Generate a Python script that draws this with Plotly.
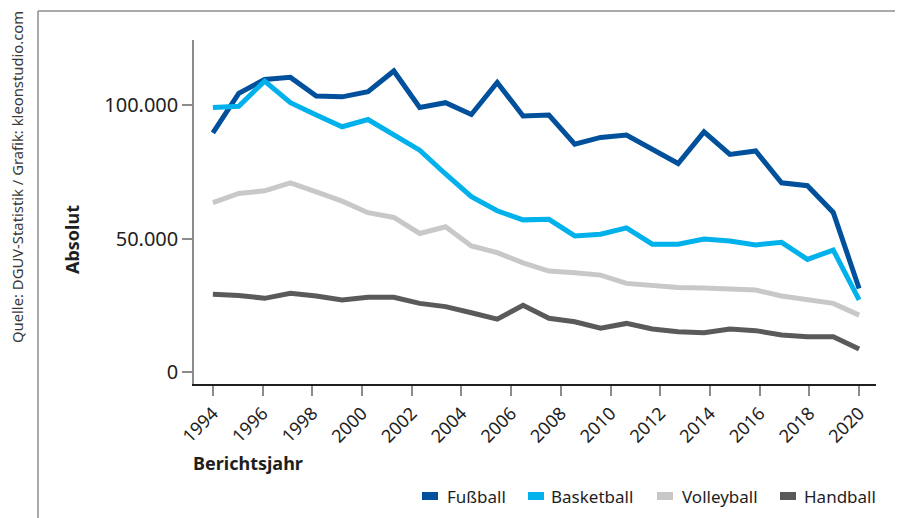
import plotly.graph_objects as go

# ---------------- data ----------------
year_ticks = [1994, 1996, 1998, 2000, 2002, 2004, 2006, 2008, 2010, 2012, 2014, 2016, 2018, 2020]
y_ticks = [0, 50000, 100000]
y_tick_labels = ["0", "50.000", "100.000"]

fussball = [89600, 104400, 109600, 110400, 103400, 103100, 105000, 112800, 99100, 100900,
            96500, 108500, 95900, 96300, 85400, 87900, 88800, 83400, 78100, 90000,
            81500, 82800, 70900, 69800, 59800, 31300]
basketball = [99100, 99600, 109000, 100900, 96300, 91900, 94600, 89000, 83100, 74200,
              65700, 60400, 57000, 57200, 51000, 51600, 54000, 47900, 47900, 49800,
              49100, 47600, 48600, 42200, 45700, 27000]
volleyball = [63500, 66900, 67900, 70900, 67500, 64000, 59700, 57900, 51900, 54400,
              47200, 44700, 40900, 37800, 37200, 36300, 33200, 32300, 31700, 31500,
              31300, 30700, 28500, 27300, 25700, 21300]
handball = [29100, 28700, 27600, 29500, 28500, 27000, 28000, 28000, 25700, 24500,
            22200, 19800, 25000, 20100, 18800, 16400, 18200, 16100, 15100, 14700,
            16100, 15500, 13900, 13200, 13200, 8600]

series_names = ["Fußball", "Basketball", "Volleyball", "Handball"]
series_values = [fussball, basketball, volleyball, handball]
series_colors = ["#00509b", "#00b1eb", "#c8c8c8", "#5a5a5a"]

point_index = list(range(len(fussball)))

# ---------------- layout geometry (screen pixels) ----------------
SCR_W, SCR_H = 903, 518
OFF = 8                      # page body margin
W, H = SCR_W - OFF, SCR_H - OFF
PLOT_L, PLOT_R, PLOT_T, PLOT_B = 194, 876, 40, 384   # screen coordinates
ML, MT = PLOT_L - OFF, PLOT_T - OFF
MR, MB = W - (PLOT_R - OFF), H - (PLOT_B - OFF)
PW, PH = PLOT_R - PLOT_L, PLOT_B - PLOT_T

def px(xs):
    return (xs - PLOT_L) / PW

def py(ys):
    return (PLOT_B - ys) / PH

year_range = [1993.24, 2020.68]
n = len(point_index)
first_year, last_year = year_ticks[0], year_ticks[-1]
scale = (n - 1) / (last_year - first_year)
idx_range = [(year_range[0] - first_year) * scale, (year_range[1] - first_year) * scale]

FONT = "Noto Sans"
TXT = "#1e1e1e"

fig = go.Figure()
for name, vals, col in zip(series_names, series_values, series_colors):
    fig.add_trace(go.Scatter(
        x=point_index, y=vals, name=name, mode="lines",
        line=dict(color=col, width=5), showlegend=False,
        xaxis="x", yaxis="y",
    ))

# invisible trace to activate the year axis
fig.add_trace(go.Scatter(x=[year_ticks[0]], y=[None], xaxis="x2", yaxis="y",
                         showlegend=False, hoverinfo="skip"))

shapes = []
shapes.append(dict(type="line", xref="paper", yref="paper",
                   x0=px(38), x1=px(38), y0=py(SCR_H + 2), y1=py(11),
                   line=dict(color="#8c8c8c", width=1.5)))
shapes.append(dict(type="line", xref="paper", yref="paper",
                   x0=px(38), x1=px(SCR_W + 2), y0=py(11), y1=py(11),
                   line=dict(color="#8c8c8c", width=1.5)))

annotations = []
annotations.append(dict(text="Quelle: DGUV-Statistik / Grafik: kleonstudio.com",
                        xref="paper", yref="paper", x=px(17), y=py(177),
                        textangle=-90, showarrow=False,
                        font=dict(family=FONT, size=14.8, color="#3a3a3a"),
                        xanchor="center", yanchor="middle"))
annotations.append(dict(text="<b>Absolut</b>", xref="paper", yref="paper",
                        x=px(72), y=py(240), textangle=-90, showarrow=False,
                        font=dict(family=FONT, size=18, color=TXT),
                        xanchor="center", yanchor="middle"))
annotations.append(dict(text="<b>Berichtsjahr</b>", xref="paper", yref="paper",
                        x=px(191), y=py(463), showarrow=False,
                        font=dict(family=FONT, size=18, color=TXT),
                        xanchor="left", yanchor="middle"))

# manual legend
leg_rect_x = [422, 528, 657, 780]
leg_text_x = [447, 551, 682, 804]
leg_y = 496
for name, col, rx, tx in zip(series_names, series_colors, leg_rect_x, leg_text_x):
    shapes.append(dict(type="rect", xref="paper", yref="paper",
                       x0=px(rx), x1=px(rx + 16), y0=py(leg_y + 4), y1=py(leg_y - 4),
                       line=dict(width=0), fillcolor=col))
    annotations.append(dict(text=name, xref="paper", yref="paper",
                            x=px(tx - 2), y=py(leg_y), showarrow=False,
                            font=dict(family=FONT, size=17, color=TXT),
                            xanchor="left", yanchor="middle"))

fig.update_layout(
    width=W, height=H,
    margin=dict(l=ML, r=MR, t=MT, b=MB, pad=0),
    paper_bgcolor="white", plot_bgcolor="white",
    font=dict(family=FONT, color=TXT),
    showlegend=False,
    xaxis=dict(range=idx_range, visible=False, fixedrange=True),
    xaxis2=dict(range=year_range, overlaying="x", anchor="y", side="bottom",
                tickmode="array", tickvals=year_ticks,
                ticktext=[str(y) for y in year_ticks],
                tickangle=-45, ticks="outside", ticklen=10, tickwidth=1.5,
                tickcolor="#8c8c8c", showgrid=False, zeroline=False,
                showline=True, linecolor="#1e1e1e", linewidth=1.5,
                tickfont=dict(family=FONT, size=18, color=TXT)),
    yaxis=dict(range=[-4500, 124400], tickmode="array", tickvals=y_ticks,
               ticktext=y_tick_labels, ticks="outside", ticklen=10, tickwidth=1.5,
               tickcolor="#8c8c8c", showgrid=False, zeroline=False,
               showline=True, linecolor="#8c8c8c", linewidth=1.5,
               tickfont=dict(family=FONT, size=20, color=TXT)),
    shapes=shapes,
    annotations=annotations,
)

fig.write_html("out.html")
